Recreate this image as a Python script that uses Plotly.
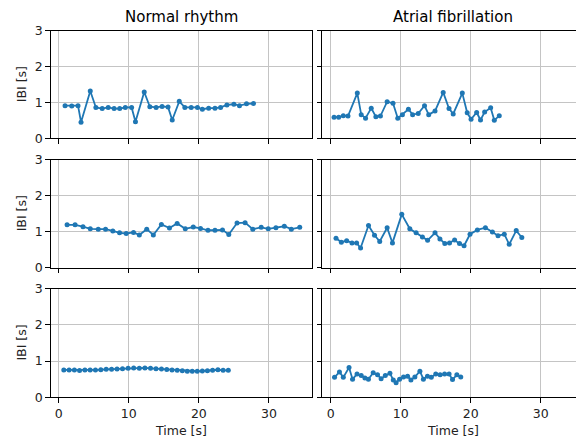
import plotly.graph_objects as go

# ---------------- data ----------------
nr1_t = [0.90, 1.85, 2.75, 3.18, 4.50, 5.30, 6.20, 7.06, 7.90, 8.70, 9.50, 10.40, 10.95, 12.20, 13.00, 13.90,
         14.75, 15.60, 16.20, 17.20, 18.00, 18.90, 19.80, 20.50, 21.40, 22.30, 23.10, 24.00, 25.00, 25.80, 26.80, 27.80]
nr1_ibi = [0.91, 0.90, 0.91, 0.45, 1.32, 0.86, 0.83, 0.86, 0.83, 0.83, 0.86, 0.86, 0.46, 1.29, 0.88, 0.86,
           0.89, 0.87, 0.51, 1.03, 0.86, 0.86, 0.86, 0.81, 0.84, 0.84, 0.86, 0.93, 0.95, 0.91, 0.96, 0.97]

af1_t = [0.48, 1.14, 1.80, 2.47, 3.80, 4.36, 4.98, 5.79, 6.45, 7.10, 8.06, 8.90, 9.58, 10.24, 11.10, 11.70,
         12.50, 13.40, 14.00, 14.90, 16.07, 16.90, 17.50, 18.80, 19.50, 20.05, 20.85, 21.40, 21.99, 22.85, 23.37, 24.08]
af1_ibi = [0.59, 0.59, 0.63, 0.62, 1.26, 0.66, 0.56, 0.84, 0.60, 0.62, 1.02, 0.98, 0.56, 0.66, 0.81, 0.66,
           0.69, 0.91, 0.66, 0.76, 1.28, 0.83, 0.68, 1.26, 0.71, 0.53, 0.72, 0.51, 0.73, 0.85, 0.50, 0.63]

nr2_t = [1.19, 2.33, 3.46, 4.50, 5.64, 6.68, 7.72, 8.68, 9.63, 10.67, 11.50, 12.56, 13.50, 14.65, 15.80, 16.90,
         18.06, 19.20, 20.24, 21.30, 22.30, 23.37, 24.27, 25.45, 26.60, 27.70, 28.90, 29.90, 31.00, 32.20, 33.20, 34.40]
nr2_ibi = [1.19, 1.19, 1.14, 1.08, 1.07, 1.07, 1.02, 0.97, 0.95, 0.98, 0.91, 1.07, 0.91, 1.20, 1.10, 1.23,
           1.08, 1.13, 1.09, 1.04, 1.04, 1.05, 0.92, 1.24, 1.25, 1.07, 1.12, 1.08, 1.11, 1.15, 1.07, 1.12]

af2_t = [0.76, 1.52, 2.28, 3.04, 3.70, 4.27, 5.40, 6.26, 7.00, 8.06, 8.82, 10.15, 11.30, 12.20, 13.10, 13.84,
         14.90, 15.60, 16.30, 16.97, 17.70, 18.40, 19.05, 19.90, 20.95, 22.10, 23.10, 23.90, 24.80, 25.50, 26.50, 27.30]
af2_ibi = [0.82, 0.71, 0.75, 0.69, 0.69, 0.55, 1.17, 0.90, 0.73, 1.11, 0.69, 1.48, 1.08, 0.97, 0.85, 0.76,
           0.97, 0.80, 0.67, 0.69, 0.77, 0.67, 0.61, 0.93, 1.05, 1.11, 0.99, 0.89, 0.93, 0.65, 1.03, 0.84]

nr3_t = [0.72, 1.48, 2.23, 2.97, 3.73, 4.48, 5.24, 6.00, 6.77, 7.54, 8.32, 9.10, 9.90, 10.70, 11.50, 12.30,
         13.10, 13.88, 14.66, 15.42, 16.17, 16.91, 17.64, 18.35, 19.06, 19.77, 20.49, 21.22, 21.96, 22.72, 23.46, 24.20]
nr3_ibi = [0.755, 0.755, 0.755, 0.74, 0.755, 0.755, 0.755, 0.76, 0.77, 0.775, 0.78, 0.79, 0.80, 0.81, 0.80, 0.81,
           0.80, 0.79, 0.78, 0.765, 0.755, 0.745, 0.73, 0.72, 0.715, 0.72, 0.725, 0.735, 0.745, 0.76, 0.745, 0.745]

af3_t = [0.55, 1.25, 1.80, 2.62, 3.12, 3.76, 4.36, 4.89, 5.39, 6.07, 6.69, 7.20, 7.80, 8.46, 8.94, 9.34,
         9.84, 10.40, 10.98, 11.46, 12.02, 12.74, 13.24, 13.82, 14.37, 15.01, 15.63, 16.27, 16.91, 17.40, 18.02, 18.58]
af3_ibi = [0.55, 0.70, 0.55, 0.82, 0.50, 0.64, 0.60, 0.53, 0.50, 0.68, 0.62, 0.51, 0.60, 0.66, 0.48, 0.40,
           0.50, 0.56, 0.58, 0.48, 0.56, 0.72, 0.50, 0.58, 0.55, 0.64, 0.62, 0.64, 0.64, 0.49, 0.62, 0.56]

col_titles = ["Normal rhythm", "Atrial fibrillation"]
x_label = "Time [s]"
y_label = "IBI [s]"
x_ticks = [0, 10, 20, 30]
y_ticks = [0, 1, 2, 3]

series = [  # (row, col, t, ibi)
    (0, 0, nr1_t, nr1_ibi), (0, 1, af1_t, af1_ibi),
    (1, 0, nr2_t, nr2_ibi), (1, 1, af2_t, af2_ibi),
    (2, 0, nr3_t, nr3_ibi), (2, 1, af3_t, af3_ibi),
]

# ---------------- layout geometry (pixels) ----------------
W, H = 576, 438
col_px = [(50.7, 312.0), (322.0, 576.0)]
row_px = [(30.7, 138.3), (159.5, 267.8), (288.5, 397.3)]
x_ranges = [[-1.15, 36.15], [-1.243, 35.04]]

FONT = "DejaVu Sans"
BLUE = "#1f77b4"
GRID = "#c4c4c4"

fig = go.Figure()
layout = dict(
    width=W, height=H, margin=dict(l=0, r=0, t=0, b=0),
    plot_bgcolor="white", paper_bgcolor="white", showlegend=False,
    font=dict(family=FONT, size=12.5, color="#222"),
)
annotations = []

for i, (r, c, t, v) in enumerate(series):
    idx = i + 1
    xa = "xaxis" if idx == 1 else f"xaxis{idx}"
    ya = "yaxis" if idx == 1 else f"yaxis{idx}"
    xref = "x" if idx == 1 else f"x{idx}"
    yref = "y" if idx == 1 else f"y{idx}"
    x0, x1 = col_px[c]
    y0, y1 = row_px[r]
    layout[xa] = dict(
        domain=[x0 / W, x1 / W], range=x_ranges[c], anchor=yref,
        tickvals=x_ticks, showticklabels=(r == 2), ticks="outside", ticklen=4.5, tickwidth=1,
        tickcolor="black", showline=True, linecolor="black", linewidth=1, mirror=True,
        showgrid=True, gridcolor=GRID, gridwidth=1, zeroline=False, automargin=False,
        tickfont=dict(family=FONT, size=12.5, color="#222"),
    )
    layout[ya] = dict(
        domain=[1 - y1 / H, 1 - y0 / H], range=[0, 3], anchor=xref,
        tickvals=y_ticks, showticklabels=(c == 0), ticks="outside", ticklen=4.5, tickwidth=1,
        tickcolor="black", showline=True, linecolor="black", linewidth=1, mirror=(c == 0),
        showgrid=True, gridcolor=GRID, gridwidth=1, zeroline=False, automargin=False,
        tickfont=dict(family=FONT, size=12.5, color="#222"),
    )
    fig.add_trace(go.Scatter(
        x=t, y=v, xaxis=xref, yaxis=yref, mode="lines+markers",
        line=dict(color=BLUE, width=1.8), marker=dict(color=BLUE, size=5),
        hoverinfo="skip",
    ))
    if c == 0:
        annotations.append(dict(
            text=y_label, xref="paper", yref="paper", x=21.7 / W, y=1 - (y0 + y1) / 2 / H,
            textangle=-90, showarrow=False, xanchor="center", yanchor="middle",
            font=dict(family=FONT, size=12.5, color="#222"),
        ))
    if r == 2:
        full_right = x1 if c == 0 else 583.0
        annotations.append(dict(
            text=x_label, xref="paper", yref="paper", x=(x0 + full_right) / 2 / W, y=1 - 430 / H,
            showarrow=False, xanchor="center", yanchor="middle",
            font=dict(family=FONT, size=12.5, color="#222"),
        ))
    if r == 0:
        full_right = x1 if c == 0 else 583.0
        annotations.append(dict(
            text=col_titles[c], xref="paper", yref="paper", x=(x0 + full_right) / 2 / W, y=1 - 17 / H,
            showarrow=False, xanchor="center", yanchor="middle",
            font=dict(family=FONT, size=15, color="black"),
        ))

layout["annotations"] = annotations
fig.update_layout(**layout)
fig.write_html(
    "out.html",
    config={"displayModeBar": False},
    post_script="document.body.style.margin='0';document.body.style.overflow='hidden';",
)
